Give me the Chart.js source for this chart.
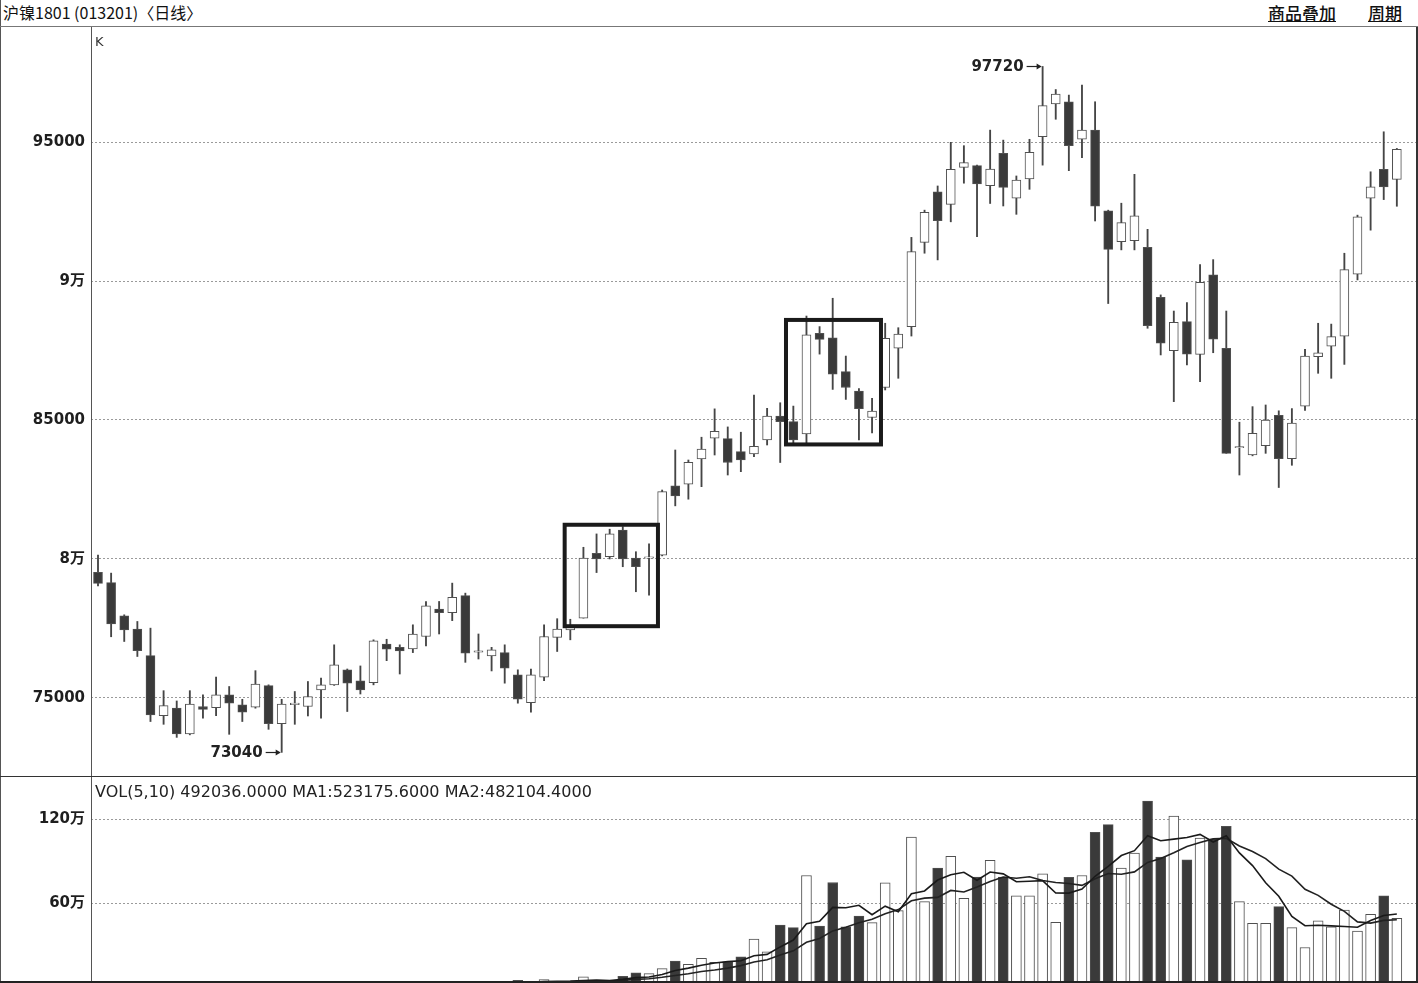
<!DOCTYPE html>
<html lang="zh-CN">
<head>
<meta charset="utf-8">
<title>沪镍1801 日线</title>
<script src="https://cdn.jsdelivr.net/npm/chart.js@4.4.1/dist/chart.umd.min.js"></script>
<style>
  html, body { margin: 0; padding: 0; background: #fff; overflow: hidden; }
  body { position: relative; width: 1418px; height: 983px; font-family: "DejaVu Sans", "Noto Sans CJK SC", sans-serif; color: #222; }
  .rule { position: absolute; background: #555; }
  .txt { position: absolute; white-space: nowrap; }
  #title { left: 3px; top: 0; line-height: 24px; font: 16px "Noto Sans CJK SC", sans-serif; color: #111; }
  .menu { top: 0; line-height: 25px; font: 500 17px "Noto Sans CJK SC", sans-serif; color: #111; text-decoration: underline; }
  #k-label { left: 95px; top: 34px; font-size: 13px; line-height: 15px; color: #333; }
  #vol-label { left: 95px; top: 783px; font-size: 16px; line-height: 18px; color: #222; }
  canvas { position: absolute; left: 0; }
  #price { top: 27px; }
  #volume { top: 776px; }
</style>
</head>
<body>
<div class="txt" id="title">沪镍1801 (013201)〈日线〉</div>
<div class="txt menu" style="left:1268px">商品叠加</div>
<div class="txt menu" style="left:1368px">周期</div>

<canvas id="price" width="1418" height="749"></canvas>
<canvas id="volume" width="1418" height="211"></canvas>

<div class="txt" id="k-label">K</div>
<div class="txt" id="vol-label">VOL(5,10) 492036.0000 MA1:523175.6000 MA2:482104.4000</div>

<div class="rule" style="left:0;top:0;width:1px;height:983px"></div>
<div class="rule" style="left:0;top:26px;width:1418px;height:1px;background:#777"></div>
<div class="rule" style="left:91px;top:27px;width:1px;height:956px"></div>
<div class="rule" style="left:0;top:776px;width:1418px;height:1px;background:#333"></div>
<div class="rule" style="left:1416px;top:27px;width:2px;height:956px;background:#333"></div>
<div class="rule" style="left:0;top:981px;width:1418px;height:2px;background:#222"></div>

<script>
"use strict";

// one entry per trading day, oldest first
const days = Array.from({ length: 100 }, (_, i) => i + 1);

const opens = [
  79520, 79150, 77950, 77480, 76520, 74360, 74630, 73700, 74690, 74650,
  75110, 74750, 74670, 75440, 74070, 74760, 74690, 75290, 75470, 76010,
  75610, 75550, 76940, 76820, 76760, 77210, 78200, 78070, 78680, 76650,
  76510, 76630, 75830, 74830, 75750, 77180, 77450, 77870, 80200, 80080,
  81040, 80030, 80030, 80140, 82630, 82690, 83600, 84350, 84330, 83860,
  83780, 84280, 85140, 84940, 84500, 88120, 87960, 86740, 86040, 85090,
  86170, 87580, 88360, 91390, 93210, 92760, 94090, 94150, 93430, 94590,
  92980, 93670, 95190, 96370, 96450, 95100, 95430, 92530, 91420, 91450,
  91210, 89410, 87490, 88540, 87360, 90220, 87580, 84000, 83740, 84080,
  85170, 83610, 85500, 87280, 87660, 88020, 90250, 92980, 94020, 93660,
];
const highs = [
  80140, 79490, 77990, 77750, 77510, 75260, 74890, 75260, 75110, 75750,
  75410, 74950, 75980, 75470, 74950, 75230, 75590, 75710, 76910, 76040,
  76150, 77090, 77110, 76910, 77630, 78470, 78470, 79130, 78770, 77300,
  76820, 76910, 76010, 76040, 77630, 77850, 77830, 80420, 80900, 81070,
  81160, 80260, 80540, 82480, 83920, 83560, 84380, 85400, 84750, 84560,
  85900, 85420, 85620, 85500, 88740, 88360, 89380, 87300, 86130, 85780,
  88480, 88320, 91570, 92550, 93420, 94990, 94870, 94170, 95430, 95070,
  93780, 95100, 97720, 96890, 96690, 97050, 96450, 92550, 92800, 93840,
  91860, 89500, 88920, 89220, 90590, 90770, 88920, 84920, 85480, 85540,
  85330, 85410, 87540, 88480, 88450, 91000, 92370, 93930, 95370, 94770,
];
const lows = [
  79030, 77200, 77030, 76490, 74150, 74050, 73580, 73670, 74270, 74360,
  73690, 74150, 74630, 73870, 73040, 74050, 74350, 74270, 75450, 74510,
  75140, 75470, 76340, 75860, 76630, 76870, 77300, 77780, 76280, 76400,
  75970, 75530, 74810, 74490, 75620, 76670, 77090, 77870, 79510, 80000,
  79720, 78820, 78700, 80110, 81910, 82150, 82600, 83740, 83020, 83140,
  83680, 84100, 83470, 84160, 84100, 87370, 86100, 85740, 84280, 84530,
  86080, 86500, 88020, 91000, 90760, 92130, 93520, 91600, 92790, 92700,
  92400, 93300, 94170, 95820, 93970, 94440, 92160, 89190, 91120, 91120,
  88300, 87340, 85660, 86980, 86380, 87420, 83800, 83020, 83710, 83800,
  82570, 83370, 85340, 86680, 86500, 87000, 90040, 91830, 92930, 92690,
];
const closes = [
  79120, 77660, 77450, 76700, 74390, 74720, 73700, 74780, 74590, 75110,
  74810, 74490, 75500, 74070, 74780, 74810, 75050, 75470, 76190, 75530,
  75290, 77050, 76750, 76690, 77300, 78310, 78070, 78620, 76610, 76690,
  76730, 76070, 74950, 75830, 77210, 77480, 77560, 80030, 80000, 80900,
  80000, 79720, 80080, 82420, 82270, 83480, 83950, 84590, 83470, 83560,
  84050, 85140, 84940, 84280, 88060, 87900, 86650, 86170, 85410, 85320,
  87940, 88090, 91060, 92470, 92170, 94020, 94260, 93490, 94030, 93370,
  93630, 94630, 96310, 96730, 94870, 95430, 92690, 91140, 92100, 92350,
  88390, 87760, 88510, 87370, 89950, 87910, 83800, 84040, 84520, 85000,
  83610, 84890, 87300, 87420, 88000, 90410, 92310, 93390, 93390, 94740,
];
const volumes = [
  3000, 4000, 3000, 5000, 8000, 6000, 7000, 5000, 4000, 6000,
  5000, 4000, 6000, 7000, 9000, 5000, 6000, 7000, 10000, 12000,
  9000, 14000, 10000, 11000, 13000, 18000, 15000, 20000, 30000, 20000,
  25000, 35000, 48000, 30000, 53000, 38000, 40000, 72000, 45000, 40000,
  77000, 101000, 96000, 132000, 185000, 163000, 205000, 176000, 180000, 216000,
  344000, 252000, 444000, 425000, 799000, 437000, 749000, 432000, 509000, 461000,
  746000, 547000, 1075000, 612000, 852000, 936000, 636000, 787000, 907000, 787000,
  653000, 653000, 811000, 463000, 785000, 799000, 1109000, 1164000, 852000, 960000,
  1332000, 931000, 1224000, 912000, 1068000, 1061000, 1152000, 612000, 456000, 456000,
  576000, 425000, 283000, 475000, 432000, 552000, 401000, 521000, 653000, 492036,
];
// MA1 = 5-day, MA2 = 10-day volume averages as plotted
const volMa1 = [
  null, null, null, null, 4600, 5200, 5800, 6200, 6000, 5600,
  5400, 4800, 5000, 5600, 6200, 6200, 6600, 6800, 7400, 8000,
  8800, 10400, 11000, 11200, 11400, 13200, 13400, 15400, 19200, 20600,
  22000, 26000, 31600, 31600, 38200, 40800, 41800, 46600, 49600, 47000,
  54800, 67000, 71800, 89200, 118200, 135400, 156200, 172200, 181800, 188000,
  224200, 233600, 287200, 336200, 452800, 471400, 570800, 568400, 585200, 517600,
  579400, 539000, 667600, 688200, 766400, 804400, 822200, 764600, 823600, 810600,
  754000, 757400, 762200, 673400, 673000, 702200, 793400, 864000, 941800, 976800,
  1083400, 1047800, 1059800, 1071800, 1093400, 1039200, 1083400, 961000, 869800, 747400,
  650400, 505000, 439200, 443000, 438200, 433400, 428600, 476200, 511800, 523175.6,
];
const volMa2 = [
  null, null, null, null, null, null, null, null, null, 5100,
  5300, 5300, 5600, 5800, 5900, 5800, 5700, 5900, 6500, 7100,
  7500, 8500, 8900, 9300, 9700, 11000, 11900, 13200, 15200, 16000,
  17600, 19700, 23500, 25400, 29400, 31400, 33900, 39100, 40600, 42600,
  47800, 54400, 59200, 69400, 82600, 95100, 111600, 122000, 135500, 153100,
  179800, 194900, 229700, 259000, 320400, 347800, 402200, 427800, 460700, 485200,
  525400, 554900, 618000, 636700, 642000, 691900, 680600, 716100, 755900, 788500,
  779200, 789800, 763400, 748500, 741800, 728100, 775400, 813100, 807600, 824900,
  892800, 920600, 961900, 1006800, 1035100, 1061300, 1065600, 1010400, 970800, 920400,
  844800, 794200, 700100, 656400, 592800, 541900, 466800, 457700, 477400, 482104.4,
];

const priceTicks = [75000, 80000, 85000, 90000, 95000];
const priceTickLabels = ["75000", "8万", "85000", "9万", "95000"];
const volTicks = [600000, 1200000];
const volTickLabels = ["60万", "120万"];

// marked extremes and the two highlighted consolidation boxes (day index / price)
const extremes = [
  { day: 73, value: 97720 },
  { day: 15, value: 73040 },
];
const boxes = [
  { from: 36.57, to: 43.68, top: 81230, bottom: 77580 },
  { from: 53.44, to: 60.68, top: 88600, bottom: 84120 },
];

const DARK = "#3a3a3a";
const EDGE = "#505050";
const fills = days.map((_, i) => (closes[i] >= opens[i] ? "#ffffff" : DARK));
const tickFont = { family: "'DejaVu Sans', 'Noto Sans CJK SC'", size: 15, weight: "bold" };

const xAxis = { type: "linear", min: 0.4665, max: 101.46, offset: false, display: false };

const yAxis = (min, max, ticks, labels) => ({
  position: "left",
  min,
  max,
  afterFit: (scale) => {
    scale.width = 91;
    // labels never sit on the panel edges, so no overflow padding is needed
    scale.paddingTop = 0;
    scale.paddingBottom = 0;
  },
  afterBuildTicks: (scale) => { scale.ticks = ticks.map((value) => ({ value })); },
  ticks: {
    callback: (value) => labels[ticks.indexOf(value)] ?? "",
    font: tickFont,
    color: "#1e1e1e",
    padding: 6,
  },
  grid: { color: "#9a9a9a", lineWidth: 1, drawTicks: false },
  border: { display: false, dash: [2, 2] },
});

const layout = { autoPadding: false, padding: { left: 0, right: 2, top: 0, bottom: 0 } };

const markPlugin = {
  id: "marks",
  afterDatasetsDraw(chart) {
    const { ctx, scales: { x, y } } = chart;
    ctx.save();
    ctx.strokeStyle = "#1a1a1a";
    ctx.lineWidth = 4;
    boxes.forEach((b) => {
      const l = x.getPixelForValue(b.from);
      const r = x.getPixelForValue(b.to);
      const t = y.getPixelForValue(b.top);
      const btm = y.getPixelForValue(b.bottom);
      ctx.strokeRect(l, t, r - l, btm - t);
    });

    ctx.font = "bold 15px 'DejaVu Sans'";
    ctx.fillStyle = "#222";
    ctx.strokeStyle = "#222";
    ctx.lineWidth = 1.2;
    ctx.textAlign = "right";
    ctx.textBaseline = "middle";
    extremes.forEach((e) => {
      const px = x.getPixelForValue(e.day);
      const py = Math.round(y.getPixelForValue(e.value)) + 0.5;
      ctx.fillText(String(e.value), px - 19, py + 1);
      ctx.beginPath();
      ctx.moveTo(px - 16, py);
      ctx.lineTo(px - 2, py);
      ctx.stroke();
      ctx.beginPath();
      ctx.moveTo(px - 1, py);
      ctx.lineTo(px - 6, py - 3);
      ctx.lineTo(px - 6, py + 3);
      ctx.closePath();
      ctx.fill();
    });
    ctx.restore();
  },
};

new Chart(document.getElementById("price"), {
  type: "bar",
  data: {
    datasets: [
      {
        label: "K",
        data: days.map((d, i) => ({ x: d, y: [opens[i], closes[i]] })),
        backgroundColor: fills,
        borderColor: EDGE,
        borderWidth: 1,
        borderSkipped: false,
        barThickness: 9,
        minBarLength: 1,
        grouped: false,
        order: 0,
      },
      {
        label: "wick",
        data: days.map((d, i) => ({ x: d, y: [lows[i], highs[i]] })),
        backgroundColor: "#454545",
        borderWidth: 0,
        barThickness: 1.2,
        grouped: false,
        order: 1,
      },
    ],
  },
  options: {
    responsive: false,
    animation: false,
    layout,
    plugins: { legend: { display: false }, tooltip: { enabled: false } },
    scales: {
      x: xAxis,
      y: yAxis(72190, 99140, priceTicks, priceTickLabels),
    },
  },
  plugins: [markPlugin],
});

new Chart(document.getElementById("volume"), {
  type: "bar",
  data: {
    datasets: [
      {
        type: "line",
        label: "MA1",
        data: days.map((d, i) => ({ x: d, y: volMa1[i] })),
        borderColor: "#1a1a1a",
        borderWidth: 1.6,
        pointRadius: 0,
        tension: 0,
        order: 0,
      },
      {
        type: "line",
        label: "MA2",
        data: days.map((d, i) => ({ x: d, y: volMa2[i] })),
        borderColor: "#222",
        borderWidth: 1.6,
        pointRadius: 0,
        tension: 0,
        order: 0,
      },
      {
        label: "VOL",
        data: days.map((d, i) => ({ x: d, y: volumes[i] })),
        backgroundColor: fills,
        borderColor: EDGE,
        borderWidth: 1,
        borderSkipped: false,
        barThickness: 10,
        grouped: false,
        order: 1,
      },
    ],
  },
  options: {
    responsive: false,
    animation: false,
    layout,
    plugins: { legend: { display: false }, tooltip: { enabled: false } },
    scales: {
      x: xAxis,
      y: yAxis(0, 1512000, volTicks, volTickLabels),
    },
  },
});
</script>
</body>
</html>
